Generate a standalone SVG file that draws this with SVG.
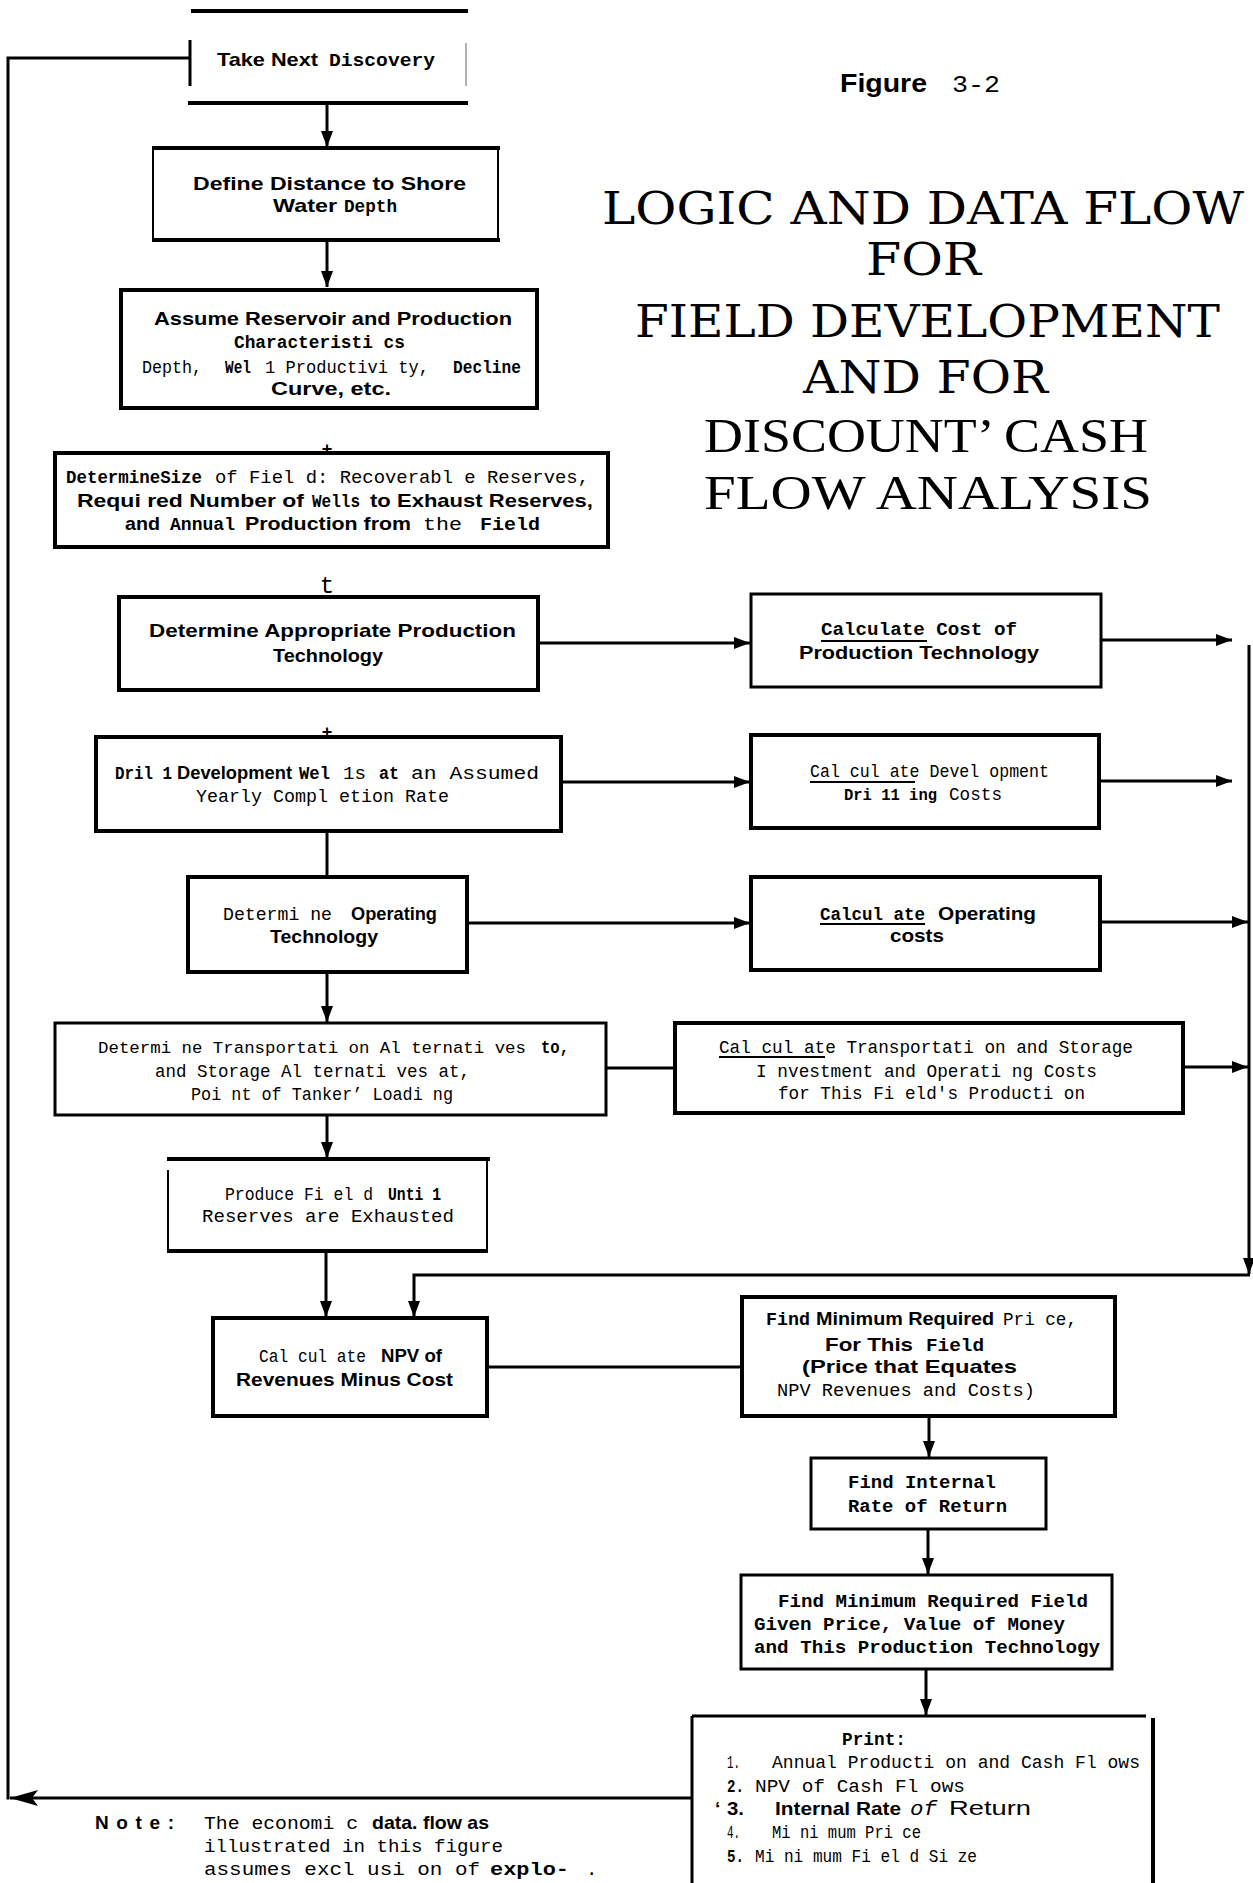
<svg xmlns="http://www.w3.org/2000/svg" width="1253" height="1883" viewBox="0 0 1253 1883">
<defs>
<style>
.box{fill:#fff;stroke:#000;stroke-width:4}
.bx3{fill:#fff;stroke:#000;stroke-width:3}
.edge{fill:none;stroke:#000;stroke-width:4}
.edge2{fill:none;stroke:#000;stroke-width:2}
.conn{fill:none;stroke:#000;stroke-width:3}
.ul{stroke:#000;stroke-width:2}
text{fill:#000}
.b{font-family:"Liberation Sans",Arial,sans-serif;font-weight:bold;font-size:19px}
.s{font-family:"Liberation Sans",Arial,sans-serif;font-size:21px}
.m{font-family:"Liberation Mono","DejaVu Sans Mono",monospace;font-size:19px}
.mb{font-family:"Liberation Mono","DejaVu Sans Mono",monospace;font-size:19px;font-weight:bold}
.mi{font-family:"Liberation Mono","DejaVu Sans Mono",monospace;font-size:20px;font-style:italic}
.t1{font-family:"DejaVu Serif","Liberation Serif",serif;font-size:44px}
.t2{font-family:"Liberation Serif",serif;font-size:49px}
</style>
<marker id="ah" markerUnits="userSpaceOnUse" markerWidth="16" markerHeight="12" refX="16" refY="6" orient="auto"><path d="M0,0 L16,6 L0,12 z" fill="#000"/></marker>
<marker id="ahL" markerUnits="userSpaceOnUse" markerWidth="28" markerHeight="16" refX="28" refY="8" orient="auto"><path d="M0,0 L28,8 L0,16 L6,8 z" fill="#000"/></marker>
</defs>
<rect width="1253" height="1883" fill="#fff"/>

<g id="connectors">
 <path class="conn" d="M692 1798 H10" marker-end="url(#ahL)"/>
 <path class="conn" d="M8 1799.5 V58 H190"/>
 <path class="conn" d="M327 105 V147" marker-end="url(#ah)"/>
 <path class="conn" d="M327 242 V287" marker-end="url(#ah)"/>
 <text class="b" x="327" y="455" text-anchor="middle" style="font-size:18px">+</text>
 <text class="m" x="327" y="593" text-anchor="middle" style="font-size:24px">t</text>
 <text class="b" x="327" y="738" text-anchor="middle" style="font-size:18px">+</text>
 <path class="conn" d="M327 831 V877"/>
 <path class="conn" d="M327 972 V1022" marker-end="url(#ah)"/>
 <path class="conn" d="M327 1115 V1158" marker-end="url(#ah)"/>
 <path class="conn" d="M326 1251 V1317" marker-end="url(#ah)"/>
 <path class="conn" d="M538 643 H750" marker-end="url(#ah)"/>
 <path class="conn" d="M561 782 H750" marker-end="url(#ah)"/>
 <path class="conn" d="M467 923 H750" marker-end="url(#ah)"/>
 <path class="conn" d="M606 1068 H675"/>
 <path class="conn" d="M1101 640 H1232" marker-end="url(#ah)"/>
 <path class="conn" d="M1099 781 H1232" marker-end="url(#ah)"/>
 <path class="conn" d="M1100 922 H1248" marker-end="url(#ah)"/>
 <path class="conn" d="M1183 1067 H1248" marker-end="url(#ah)"/>
 <path class="conn" d="M1249 645 V1274" marker-end="url(#ah)"/>
 <path class="conn" d="M1250 1275 H414 V1317" marker-end="url(#ah)"/>
 <path class="conn" d="M487 1367 H742"/>
 <path class="conn" d="M929 1416 V1457" marker-end="url(#ah)"/>
 <path class="conn" d="M928 1529 V1574" marker-end="url(#ah)"/>
 <path class="conn" d="M926 1669 V1715" marker-end="url(#ah)"/>
</g>

<g id="n-take">
 <path class="edge" d="M191 11 H468 M188 103 H468"/>
 <path class="conn" d="M190 40 V86"/>
 <path d="M466 43 V86" stroke="#999" stroke-width="1.5"/>
 <text y="66"><tspan class="b" x="217" textLength="101" lengthAdjust="spacingAndGlyphs">Take Next</tspan><tspan class="mb" x="329" textLength="106" lengthAdjust="spacingAndGlyphs">Discovery</tspan></text>
</g>

<g id="n-define">
 <path class="edge" d="M152 148 H500 M152 240 H500"/>
 <path class="edge2" d="M153 150 V240 M498 150 V240"/>
 <text class="b" x="193" y="190" textLength="273" lengthAdjust="spacingAndGlyphs">Define Distance to Shore</text>
 <text y="212"><tspan class="b" x="273" textLength="64" lengthAdjust="spacingAndGlyphs">Water</tspan><tspan class="mb" x="344" textLength="53" lengthAdjust="spacingAndGlyphs">Depth</tspan></text>
</g>

<g id="n-assume">
 <rect class="box" x="121" y="290" width="416" height="118"/>
 <text class="b" x="154" y="325" textLength="358" lengthAdjust="spacingAndGlyphs">Assume Reservoir and Production</text>
 <text class="mb" x="234" y="348" textLength="171" lengthAdjust="spacingAndGlyphs">Characteristi cs</text>
 <text y="373"><tspan class="m" x="142" textLength="60" lengthAdjust="spacingAndGlyphs">Depth,</tspan><tspan class="mb" x="225" textLength="26" lengthAdjust="spacingAndGlyphs">Wel</tspan><tspan class="m" x="265" textLength="164" lengthAdjust="spacingAndGlyphs">1 Productivi ty,</tspan><tspan class="mb" x="453" textLength="68" lengthAdjust="spacingAndGlyphs">Decline</tspan></text>
 <text class="b" x="271" y="395" textLength="120" lengthAdjust="spacingAndGlyphs">Curve, etc.</text>
</g>

<g id="n-size">
 <rect class="box" x="55" y="453" width="553" height="94"/>
 <text y="483"><tspan class="mb" x="66" textLength="136" lengthAdjust="spacingAndGlyphs">DetermineSize</tspan><tspan class="m" x="215" textLength="374" lengthAdjust="spacingAndGlyphs">of Fiel d: Recoverabl e Reserves,</tspan></text>
 <text y="507"><tspan class="b" x="77" textLength="227" lengthAdjust="spacingAndGlyphs">Requi red Number of</tspan><tspan class="mb" x="312" textLength="48" lengthAdjust="spacingAndGlyphs">Wells</tspan><tspan class="b" x="370" textLength="223" lengthAdjust="spacingAndGlyphs">to Exhaust Reserves,</tspan></text>
 <text y="530"><tspan class="b" x="125" textLength="35" lengthAdjust="spacingAndGlyphs">and</tspan><tspan class="mb" x="170" textLength="65" lengthAdjust="spacingAndGlyphs">Annual</tspan><tspan class="b" x="245" textLength="166" lengthAdjust="spacingAndGlyphs">Production from</tspan><tspan class="m" x="423" textLength="39" lengthAdjust="spacingAndGlyphs">the</tspan><tspan class="mb" x="480" textLength="60" lengthAdjust="spacingAndGlyphs">Field</tspan></text>
</g>

<g id="n-prodtech">
 <rect class="box" x="119" y="597" width="419" height="93"/>
 <text class="b" x="149" y="637" textLength="367" lengthAdjust="spacingAndGlyphs">Determine Appropriate Production</text>
 <text class="b" x="273" y="662" textLength="110" lengthAdjust="spacingAndGlyphs">Technology</text>
</g>

<g id="n-drill">
 <rect class="box" x="96" y="737" width="465" height="94"/>
 <text y="779"><tspan class="mb" x="115" textLength="57" lengthAdjust="spacingAndGlyphs">Dril 1</tspan><tspan class="b" x="177" textLength="115" lengthAdjust="spacingAndGlyphs">Development</tspan><tspan class="mb" x="299" textLength="31" lengthAdjust="spacingAndGlyphs">Wel</tspan><tspan class="m" x="343" textLength="23" lengthAdjust="spacingAndGlyphs">1s</tspan><tspan class="mb" x="379" textLength="20" lengthAdjust="spacingAndGlyphs">at</tspan><tspan class="m" x="411" textLength="128" lengthAdjust="spacingAndGlyphs">an Assumed</tspan></text>
 <text class="m" x="196" y="802" textLength="253" lengthAdjust="spacingAndGlyphs">Yearly Compl etion Rate</text>
</g>

<g id="n-optech">
 <rect class="box" x="188" y="877" width="279" height="95"/>
 <text y="920"><tspan class="m" x="223" textLength="109" lengthAdjust="spacingAndGlyphs">Determi ne</tspan><tspan class="b" x="351" textLength="86" lengthAdjust="spacingAndGlyphs">Operating</tspan></text>
 <text class="b" x="270" y="943" textLength="108" lengthAdjust="spacingAndGlyphs">Technology</text>
</g>

<g id="n-transport">
 <rect class="bx3" x="55" y="1023" width="551" height="92" stroke-width="3.5"/>
 <text y="1053"><tspan class="m" x="98" style="font-size:17.4px" textLength="428" lengthAdjust="spacingAndGlyphs">Determi ne Transportati on Al ternati ves</tspan><tspan class="mb" x="541" textLength="28" lengthAdjust="spacingAndGlyphs">to,</tspan></text>
 <text class="m" x="155" y="1077" textLength="315" lengthAdjust="spacingAndGlyphs">and Storage Al ternati ves at,</text>
 <text class="m" x="191" y="1100" textLength="262" lengthAdjust="spacingAndGlyphs">Poi nt of Tanker’ Loadi ng</text>
</g>

<g id="n-produce">
 <path class="edge" d="M167 1159 H490 M167 1251 H488"/>
 <path class="edge2" d="M168 1170 V1251 M487 1159 V1251"/>
 <text y="1200"><tspan class="m" x="225" style="font-size:17.5px" textLength="148" lengthAdjust="spacingAndGlyphs">Produce Fi el d</tspan><tspan class="mb" x="388" textLength="53" lengthAdjust="spacingAndGlyphs">Unti 1</tspan></text>
 <text class="m" x="202" y="1222" textLength="252" lengthAdjust="spacingAndGlyphs">Reserves are Exhausted</text>
</g>

<g id="n-npv">
 <rect class="box" x="213" y="1318" width="274" height="98"/>
 <text y="1362"><tspan class="m" x="259" textLength="107" lengthAdjust="spacingAndGlyphs">Cal cul ate</tspan><tspan class="b" x="381" textLength="61" lengthAdjust="spacingAndGlyphs">NPV of</tspan></text>
 <text class="b" x="236" y="1386" textLength="217" lengthAdjust="spacingAndGlyphs">Revenues Minus Cost</text>
</g>

<g id="n-costprod">
 <rect class="bx3" x="751" y="594" width="350" height="93" stroke-width="3.5"/>
 <text class="mb" x="821" y="635" textLength="196" lengthAdjust="spacingAndGlyphs">Calculate Cost of</text>
 <line class="ul" x1="821" y1="641" x2="927" y2="641"/>
 <text class="b" x="799" y="659" textLength="240" lengthAdjust="spacingAndGlyphs">Production Technology</text>
</g>

<g id="n-devcost">
 <rect class="box" x="751" y="735" width="348" height="93"/>
 <text class="m" x="810" y="777" textLength="239" lengthAdjust="spacingAndGlyphs">Cal cul ate Devel opment</text>
 <line class="ul" x1="810" y1="782" x2="915" y2="782"/>
 <text y="800"><tspan class="mb" x="844" style="font-size:17px" textLength="93" lengthAdjust="spacingAndGlyphs">Dri 11 ing</tspan><tspan class="m" x="949" textLength="53" lengthAdjust="spacingAndGlyphs">Costs</tspan></text>
</g>

<g id="n-opcost">
 <rect class="box" x="751" y="877" width="349" height="93"/>
 <text y="920"><tspan class="mb" x="820" textLength="105" lengthAdjust="spacingAndGlyphs">Calcul ate</tspan><tspan class="b" x="938" textLength="98" lengthAdjust="spacingAndGlyphs">Operating</tspan></text>
 <line class="ul" x1="820" y1="924" x2="925" y2="924"/>
 <text class="b" x="890" y="942" textLength="54" lengthAdjust="spacingAndGlyphs">costs</text>
</g>

<g id="n-transcost">
 <rect class="box" x="675" y="1023" width="508" height="90"/>
 <text class="m" x="719" y="1053" textLength="414" lengthAdjust="spacingAndGlyphs">Cal cul ate Transportati on and Storage</text>
 <line class="ul" x1="719" y1="1057" x2="825" y2="1057"/>
 <text class="m" x="756" y="1077" textLength="341" lengthAdjust="spacingAndGlyphs">I nvestment and Operati ng Costs</text>
 <text class="m" x="778" y="1099" textLength="307" lengthAdjust="spacingAndGlyphs">for This Fi eld's Producti on</text>
</g>

<g id="n-minprice">
 <rect class="box" x="742" y="1297" width="373" height="119"/>
 <text y="1325"><tspan class="mb" x="766" textLength="44" lengthAdjust="spacingAndGlyphs">Find</tspan><tspan class="b" x="816" textLength="178" lengthAdjust="spacingAndGlyphs">Minimum Required</tspan><tspan class="m" x="1003" textLength="74" lengthAdjust="spacingAndGlyphs">Pri ce,</tspan></text>
 <text y="1351"><tspan class="b" x="825" textLength="88" lengthAdjust="spacingAndGlyphs">For This</tspan><tspan class="mb" x="926" textLength="58" lengthAdjust="spacingAndGlyphs">Field</tspan></text>
 <text class="b" x="802" y="1373" textLength="215" lengthAdjust="spacingAndGlyphs">(Price that Equates</text>
 <text class="m" x="777" y="1396" textLength="258" lengthAdjust="spacingAndGlyphs">NPV Revenues and Costs)</text>
</g>

<g id="n-irr">
 <rect class="bx3" x="811" y="1458" width="235" height="71"/>
 <text class="mb" x="848" y="1488" textLength="148" lengthAdjust="spacingAndGlyphs">Find Internal</text>
 <text class="mb" x="848" y="1512" textLength="159" lengthAdjust="spacingAndGlyphs">Rate of Return</text>
</g>

<g id="n-minfield">
 <rect class="bx3" x="741" y="1575" width="371" height="94"/>
 <text class="mb" x="778" y="1607" textLength="310" lengthAdjust="spacingAndGlyphs">Find Minimum Required Field</text>
 <text class="mb" x="754" y="1630" textLength="311" lengthAdjust="spacingAndGlyphs">Given Price, Value of Money</text>
 <text class="mb" x="754" y="1653" textLength="346" lengthAdjust="spacingAndGlyphs">and This Production Technology</text>
</g>

<g id="n-print">
 <path class="conn" d="M692 1716 H1146 M692 1716 V1883"/>
 <path class="edge" d="M1153 1718 V1883"/>
 <text class="mb" x="842" y="1745" textLength="64" lengthAdjust="spacingAndGlyphs">Print:</text>
 <text y="1768"><tspan class="m" x="727" textLength="13" lengthAdjust="spacingAndGlyphs">1.</tspan><tspan class="m" x="772" textLength="368" lengthAdjust="spacingAndGlyphs">Annual Producti on and Cash Fl ows</tspan></text>
 <text y="1792"><tspan class="mb" x="727" textLength="17" lengthAdjust="spacingAndGlyphs">2.</tspan><tspan class="m" x="755" textLength="210" lengthAdjust="spacingAndGlyphs">NPV of Cash Fl ows</tspan></text>
 <text y="1815"><tspan class="b" x="715">‘</tspan><tspan class="b" x="727" textLength="17" lengthAdjust="spacingAndGlyphs">3.</tspan><tspan class="b" x="775" textLength="126" lengthAdjust="spacingAndGlyphs">Internal Rate</tspan><tspan class="mi" x="910" textLength="27" lengthAdjust="spacingAndGlyphs">of</tspan><tspan class="s" x="949" textLength="82" lengthAdjust="spacingAndGlyphs">Return</tspan></text>
 <text y="1838"><tspan class="m" x="727" textLength="13" lengthAdjust="spacingAndGlyphs">4.</tspan><tspan class="m" x="772" textLength="149" lengthAdjust="spacingAndGlyphs">Mi ni mum Pri ce</tspan></text>
 <text y="1862"><tspan class="mb" x="727" textLength="17" lengthAdjust="spacingAndGlyphs">5.</tspan><tspan class="m" x="755" textLength="222" lengthAdjust="spacingAndGlyphs">Mi ni mum Fi el d Si ze</tspan></text>
</g>

<g id="note">
 <text class="b" x="95" y="1829" textLength="79" lengthAdjust="spacing">Note:</text>
 <text y="1829"><tspan class="m" x="204" textLength="154" lengthAdjust="spacingAndGlyphs">The economi c</tspan><tspan class="b" x="372" textLength="117" lengthAdjust="spacingAndGlyphs">data. flow as</tspan></text>
 <text class="m" x="204" y="1852" textLength="299" lengthAdjust="spacingAndGlyphs">illustrated in this figure</text>
 <text y="1875"><tspan class="m" x="204" textLength="276" lengthAdjust="spacingAndGlyphs">assumes excl usi on of</tspan><tspan class="mb" x="490" textLength="79" lengthAdjust="spacingAndGlyphs">explo-</tspan><tspan class="m" x="586">.</tspan></text>
</g>

<g id="title">
 <text class="b" x="840" y="92" style="font-size:25px" textLength="87" lengthAdjust="spacingAndGlyphs">Figure</text>
 <text class="m" x="952" y="92" style="font-size:24px" textLength="48" lengthAdjust="spacingAndGlyphs">3-2</text>
 <text class="t1" x="602" y="224" textLength="642" lengthAdjust="spacingAndGlyphs">LOGIC AND DATA FLOW</text>
 <text class="t1" x="866" y="275" textLength="115" lengthAdjust="spacingAndGlyphs">FOR</text>
 <text class="t1" x="635" y="337" textLength="585" lengthAdjust="spacingAndGlyphs">FIELD DEVELOPMENT</text>
 <text class="t1" x="803" y="393" textLength="245" lengthAdjust="spacingAndGlyphs">AND FOR</text>
 <text class="t2" x="704" y="452" textLength="444" lengthAdjust="spacingAndGlyphs">DISCOUNT’ CASH</text>
 <text class="t2" x="704" y="509" textLength="448" lengthAdjust="spacingAndGlyphs">FLOW ANALYSIS</text>
</g>
</svg>
